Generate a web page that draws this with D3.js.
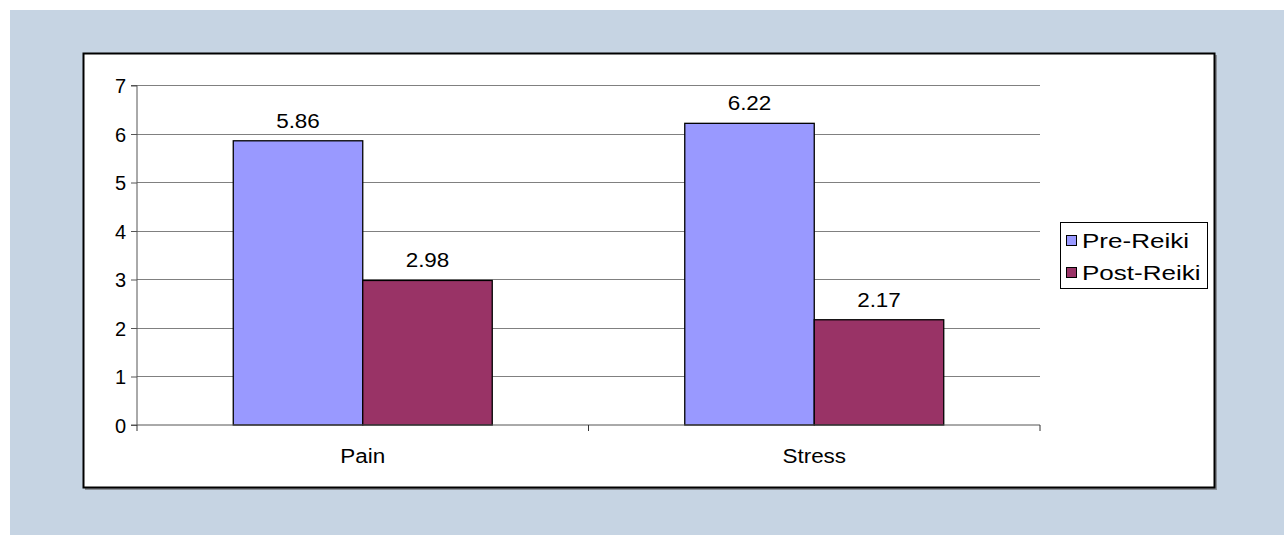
<!DOCTYPE html>
<html><head><meta charset="utf-8">
<script src="https://cdn.jsdelivr.net/npm/d3@7"></script>
<style>body{margin:0;padding:0;background:#fff;}svg{display:block;}</style>
</head><body>
<script>
const categories = ["Pain", "Stress"];
const seriesNames = ["Pre-Reiki", "Post-Reiki"];
const preReiki = [5.86, 6.22];
const postReiki = [2.98, 2.17];
const yTicks = [0, 1, 2, 3, 4, 5, 6, 7];
const colors = ["#9999ff", "#993366"];

(function () {
const W = 1284, H = 535;
const FONT = "'Liberation Sans', Arial, sans-serif";
const svg = d3.select("body").append("svg").attr("width", W).attr("height", H)
  .style("font-family", FONT);

svg.append("rect").attr("x", 10).attr("y", 10).attr("width", W - 10).attr("height", H - 10).attr("fill", "#c6d4e3");
// shadow
svg.append("rect").attr("x", 85).attr("y", 55).attr("width", 1132).attr("height", 435).attr("fill", "#8a8f96");
svg.append("rect").attr("x", 83.5).attr("y", 53.5).attr("width", 1131).attr("height", 434).attr("fill", "#fff").attr("stroke", "#000").attr("stroke-width", 2);

const pL = 137, pR = 1040, pT = 85.5, pB = 425;
const x = d3.scaleBand().domain(categories).range([pL, pR]);
const y = d3.scaleLinear().domain([0, 7]).range([pB, pT]);
const bw = x.bandwidth() * 0.2868;

// gridlines
svg.append("g").selectAll("line").data(yTicks.filter(d => d > 0)).join("line")
  .attr("x1", pL).attr("x2", pR).attr("y1", d => y(d)).attr("y2", d => y(d))
  .attr("stroke", "#808080").attr("stroke-width", 1).attr("shape-rendering", "crispEdges");

const data = categories.map((c, i) => ({c, vals: [preReiki[i], postReiki[i]]}));
const g = svg.append("g");
data.forEach(d => {
  const cx = x(d.c) + x.bandwidth() / 2;
  d.vals.forEach((v, j) => {
    const bx = cx - bw + j * bw;
    g.append("rect").attr("x", bx).attr("y", y(v)).attr("width", bw).attr("height", y(0) - y(v))
      .attr("fill", colors[j]).attr("stroke", "#000").attr("stroke-width", 1.3);
    g.append("text").attr("transform", `translate(${bx + bw / 2},${y(v) - 13}) scale(1.07,1)`)
      .attr("text-anchor", "middle")
      .attr("font-size", 21).attr("fill", "#000").text(v.toFixed(2));
  });
});

// y axis
const yAxis = d3.axisLeft(y).tickValues(yTicks).tickSize(6).tickPadding(5).tickFormat(d3.format("d"));
const ya = svg.append("g").attr("transform", `translate(${pL},0)`).call(yAxis);
ya.select(".domain").attr("stroke", "#555").attr("d", `M-6,${pT}H0V${pB}H-6`);
ya.selectAll(".tick line").attr("stroke", "#555");
ya.selectAll("text").attr("font-size", 20).attr("font-family", FONT).attr("fill", "#000").attr("dy", "0.36em");

// x axis
const xAxis = d3.axisBottom(x).tickSize(0).tickPadding(38);
const xa = svg.append("g").attr("transform", `translate(0,${pB})`).call(xAxis);
xa.select(".domain").attr("stroke", "#555").attr("d", `M${pL},0H${pR}`);
xa.selectAll("text").attr("font-size", 21).attr("font-family", FONT).attr("fill", "#000")
  .attr("dy", 0).attr("transform", "scale(1.07,1)");
// category separator ticks
svg.append("g").selectAll("line").data([pL, (pL + pR) / 2, pR]).join("line")
  .attr("x1", d => d).attr("x2", d => d).attr("y1", pB).attr("y2", pB + 6)
  .attr("stroke", "#333").attr("stroke-width", 1);

// legend
const lg = svg.append("g");
lg.append("rect").attr("x", 1060.5).attr("y", 222.5).attr("width", 147).attr("height", 66).attr("fill", "#fff").attr("stroke", "#000");
seriesNames.forEach((n, i) => {
  const ly = 248 + i * 32;
  lg.append("rect").attr("x", 1066.5).attr("y", ly - 12.5).attr("width", 10).attr("height", 10)
    .attr("fill", colors[i]).attr("stroke", "#000");
  lg.append("text").attr("transform", `translate(1082,${ly}) scale(1.24,1)`)
    .attr("font-size", 21).attr("fill", "#000").text(n);
});
})();
</script>
</body></html>
